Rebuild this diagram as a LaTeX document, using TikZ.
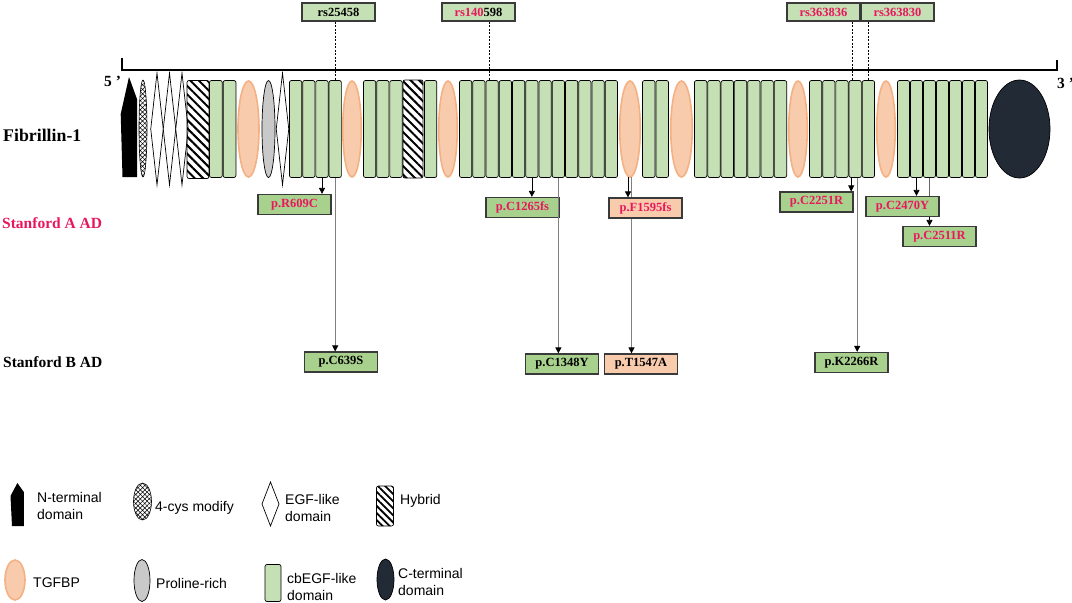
\documentclass[tikz,border=0pt]{standalone}
\usepackage{fontspec}
\setmainfont{Liberation Serif}
\setsansfont{Liberation Sans}
\usetikzlibrary{shapes.geometric,arrows.meta,patterns.meta}
\definecolor{cbgreen}{HTML}{C5E0B4}
\definecolor{boxgreen}{HTML}{A9D18E}
\definecolor{salmon}{HTML}{F8CBAD}
\definecolor{salmonline}{HTML}{F4B183}
\definecolor{navy}{HTML}{222A35}
\definecolor{progray}{HTML}{C9C9C9}
\definecolor{boxline}{HTML}{3A3A3A}
\definecolor{snpred}{HTML}{E8175D}

\begin{document}
\begin{tikzpicture}[x=1pt, y=-1pt,
  cbegf/.style={draw=black, fill=cbgreen, rounded corners=2pt, line width=0.7pt,
    minimum width=12.4pt, minimum height=97pt, inner sep=0pt, outer sep=0pt},
  tgfbp/.style={ellipse, draw=salmonline, fill=salmon, line width=1.6pt,
    minimum height=96pt, inner sep=0pt, outer sep=0pt},
  egf/.style={diamond, draw=black, fill=white, line width=0.7pt,
    minimum width=12.5pt, minimum height=112pt, inner sep=0pt, outer sep=0pt},
  hybrid/.style={draw=black, rounded corners=2pt, line width=0.7pt,
    pattern={Lines[angle=-45,distance=6pt,line width=2pt]},
    minimum height=98pt, inner sep=0pt, outer sep=0pt},
  cys/.style={ellipse, draw=black, line width=0.6pt, preaction={fill=white},
    pattern={Hatch[angle=45,distance=3.2pt,line width=0.5pt]}, inner sep=0pt},
  proline/.style={ellipse, draw=black, fill=progray, line width=0.7pt, inner sep=0pt},
  cterm/.style={ellipse, draw=black, fill=navy, line width=0.7pt, inner sep=0pt},
  mutbox/.style={draw=boxline, fill=boxgreen, line width=1.2pt,
    minimum width=73pt, minimum height=20pt, inner sep=0pt,
    font=\fontsize{12.5}{14}\selectfont\bfseries},
  snpbox/.style={mutbox, fill=cbgreen, minimum height=18pt},
  snpline/.style={draw=black, line width=0.7pt, dash pattern=on 2pt off 1.5pt},
  arr/.style={draw=black, line width=0.7pt, -{Triangle[length=6pt,width=6pt]}},
  longarr/.style={draw=black!50, line width=1pt, -{Triangle[length=6pt,width=6pt,color=black]}},
  rowlabel/.style={anchor=west, inner sep=0pt, font=\fontsize{15.5}{18}\selectfont\bfseries},
  legtext/.style={anchor=west, inner sep=0pt, align=left, font=\sffamily\fontsize{14}{17}\selectfont}]

  \useasboundingbox (0,0) rectangle (1072,603);
  \fill[white] (0,0) rectangle (1072,603);

  % Protein axis
  \draw[line width=1.3pt] (122,58) -- (122,70) -- (1057,70) -- (1057,60);
  \node[rowlabel] (five) at (104,81) {5 ’};
  \node[rowlabel] (three) at (1057,83) {3 ’};

  % Row labels
  \node[rowlabel, font=\fontsize{17.8}{20}\selectfont\bfseries] (fib) at (3,135) {Fibrillin-1};
  \node[rowlabel, text=snpred] (stanA) at (2,223) {Stanford A AD};
  \node[rowlabel] (stanB) at (3,362) {Stanford B AD};

  % N-terminal and 4-cys
  \fill (129,77) -- (137,99) -- (137,177) -- (122.5,177) -- (120.7,114) -- cycle;
  \node[cys, minimum width=8pt, minimum height=97pt] (cys) at (143,128.5) {};

  % EGF-like domains
  \foreach \n/\x in {1/157, 2/169.5, 3/182, 4/282.5}
    \node[egf] (egf\n) at (\x,129) {};

  % Hybrid domains
  \node[hybrid, minimum width=22pt] (hyb1) at (198,129.5) {};
  \node[hybrid, minimum width=20pt] (hyb2) at (413,129) {};

  % TGFBP domains
  \foreach \n/\x/\w in {1/248.5/21, 2/352/18.5, 3/448/18.5, 4/630/20.5, 5/681.5/21.5, 6/798/18.5, 7/886/18.5}
    \node[tgfbp, minimum width=\w pt] (tg\n) at (\x,129) {};

  % Proline-rich and C-terminal
  \node[proline, minimum width=13pt, minimum height=97pt] (pro) at (268.5,129) {};
  \node[cterm, minimum width=61pt, minimum height=98pt] (cter) at (1019.5,129) {};

  % cbEGF-like domains
  \foreach \g/\x/\n/\p in {A/209/2/13.7, B/289/4/13.2, C/363/3/13.2, D/424/1/13.2,
      E/459/12/13.25, F/642/2/13.5, G/694/7/13.3, H/809/5/13.2, I/897/7/13}
    \foreach \i in {1,...,\n}
      \node[cbegf, minimum width={(\p-0.9)*1pt}] (cb\g-\i) at ({\x+(\i-0.5)*\p},129) {};

  % Attachment points off the domain centres
  \coordinate (snpE) at ([xshift=-3pt]cbE-3.north);
  \coordinate (snpH) at ([xshift=-3pt]cbH-4.north);
  \coordinate (tgL) at ([xshift=-2pt]tg4.south);
  \coordinate (tgR) at ([xshift=1.5pt]tg4.south);
  \coordinate (cbHL) at ([xshift=-4pt]cbH-4.south);
  \coordinate (cbHR) at ([xshift=2pt]cbH-4.south);

  % SNPs
  \node[snpbox] (rs1) at (338.5,12) {rs25458};
  \node[snpbox] (rs2) at (478.5,12) {\textcolor{snpred}{rs140}598};
  \node[snpbox, text=snpred] (rs3) at (823.5,12) {rs363836};
  \node[snpbox, text=snpred] (rs4) at (897.5,12) {rs363830};
  \draw[snpline] (rs1.south -| cbB-4.north) -- (cbB-4.north);
  \draw[snpline] (rs2.south -| snpE) -- (snpE);
  \draw[snpline] (rs3.south -| snpH) -- (snpH);
  \draw[snpline] (rs4.south -| cbH-5.north) -- (cbH-5.north);

  % Stanford A AD variants
  \node[mutbox, text=snpred] (r609) at (294.5,204.5) {p.R609C};
  \node[mutbox, text=snpred] (c1265) at (522.5,207.5) {p.C1265fs};
  \node[mutbox, fill=salmon, text=snpred] (f1595) at (645.5,208) {p.F1595fs};
  \node[mutbox, text=snpred] (c2251) at (816.5,202) {p.C2251R};
  \node[mutbox, text=snpred] (c2470) at (902.5,206.5) {p.C2470Y};
  \node[mutbox, text=snpred] (c2511) at (939.5,236.5) {p.C2511R};

  % Stanford B AD variants
  \node[mutbox] (c639) at (341,362) {p.C639S};
  \node[mutbox] (c1348) at (562,364) {p.C1348Y};
  \node[mutbox, fill=salmon] (t1547) at (641,364) {p.T1547A};
  \node[mutbox] (k2266) at (851.5,362.5) {p.K2266R};

  % Arrows to variants
  \draw[arr] (cbB-3.south) -- (cbB-3.south |- r609.north);
  \draw[longarr] (cbB-4.south) -- (cbB-4.south |- c639.north);
  \draw[arr] (cbE-6.south) -- (cbE-6.south |- c1265.north);
  \draw[longarr] (cbE-8.south) -- (cbE-8.south |- c1348.north);
  \draw[arr] (tgL) -- (tgL |- f1595.north);
  \draw[draw=black!50, line width=1pt] (tgR) -- (tgR |- f1595.north);
  \draw[longarr] (tgR |- f1595.south) -- (tgR |- t1547.north);
  \draw[arr] (cbHL) -- (cbHL |- c2251.north);
  \draw[longarr] (cbHR) -- (cbHR |- k2266.north);
  \draw[arr] (cbI-2.south) -- (cbI-2.south |- c2470.north);
  \draw[draw=black!60, line width=0.7pt] (cbI-3.south) -- (cbI-3.south |- c2470.north);
  \draw[arr] (cbI-3.south |- c2470.south) -- (cbI-3.south |- c2511.north);

  % Legend, first row
  \fill (17.4,483) -- (23.8,492) -- (23.8,526) -- (12,526) -- (10.5,496) -- cycle;
  \node[legtext] (lgN) at (37,506) {N-terminal\\domain};
  \node[cys, minimum width=18pt, minimum height=37pt] (lgcys) at (142.5,501.5) {};
  \node[legtext] (lgcystext) at (155,508) {4-cys modify};
  \node[egf, minimum width=17pt, minimum height=44pt] (lgegf) at (270.5,504) {};
  \node[legtext] (lgegftext) at (285,507.5) {EGF-like\\domain};
  \node[hybrid, minimum width=17pt, minimum height=40pt,
    pattern={Lines[angle=-45,distance=5pt,line width=1.8pt]}] (lghyb) at (385,506) {};
  \node[legtext] (lghybtext) at (400,501) {Hybrid};

  % Legend, second row
  \node[tgfbp, minimum width=20pt, minimum height=40pt] (lgtg) at (15,580) {};
  \node[legtext] (lgtgtext) at (33,583) {TGFBP};
  \node[proline, minimum width=16pt, minimum height=42pt] (lgpro) at (142,580.5) {};
  \node[legtext] (lgprotext) at (156,583) {Proline-rich};
  \node[cbegf, minimum width=16pt, minimum height=37pt] (lgcb) at (273,583) {};
  \node[legtext] (lgcbtext) at (287,587) {cbEGF-like\\domain};
  \node[cterm, minimum width=17pt, minimum height=41pt] (lgct) at (385.5,579.5) {};
  \node[legtext] (lgcttext) at (398,582) {C-terminal\\domain};

\end{tikzpicture}
\end{document}
